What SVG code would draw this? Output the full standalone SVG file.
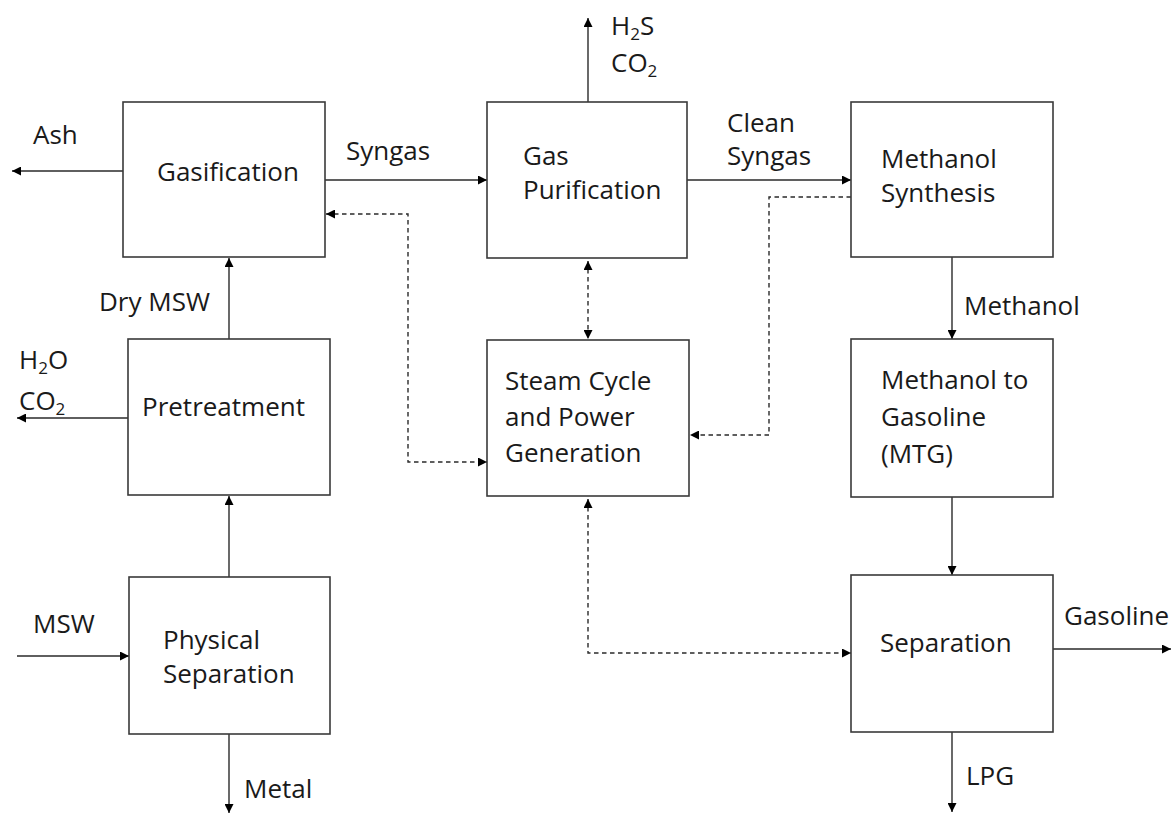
<svg xmlns="http://www.w3.org/2000/svg" width="1172" height="814" viewBox="0 0 1172 814">
<style>
.box{fill:#fff;stroke:#3a3a3a;stroke-width:1.6}
.t{font-family:"Open Sans","Noto Sans","Liberation Sans",sans-serif;font-size:26px;fill:#1a1a1a}
.sub{font-size:17px}
.c{fill:none;stroke:#2a2a2a;stroke-width:1.4}
.d{fill:none;stroke:#2a2a2a;stroke-width:1.4;stroke-dasharray:4.5,3.5}
</style>
<defs>
<marker id="ah" viewBox="0 0 10 10" refX="10" refY="5" markerWidth="10" markerHeight="9" markerUnits="userSpaceOnUse" orient="auto-start-reverse">
<path d="M0,0 L10,5 L0,10 z" fill="#000"/>
</marker>
</defs>
<rect width="1172" height="814" fill="#fff"/>

<g id="connectors">
<line class="c" x1="123" y1="171" x2="12" y2="171" marker-end="url(#ah)"/>
<line class="c" x1="325" y1="180" x2="487" y2="180" marker-end="url(#ah)"/>
<line class="c" x1="687" y1="180" x2="851" y2="180" marker-end="url(#ah)"/>
<line class="c" x1="588" y1="102" x2="588" y2="18" marker-end="url(#ah)"/>
<line class="c" x1="229" y1="339" x2="229" y2="258" marker-end="url(#ah)"/>
<line class="c" x1="229" y1="577" x2="229" y2="496" marker-end="url(#ah)"/>
<line class="c" x1="128" y1="418" x2="17" y2="418" marker-end="url(#ah)"/>
<line class="c" x1="17" y1="656" x2="129" y2="656" marker-end="url(#ah)"/>
<line class="c" x1="229" y1="734" x2="229" y2="813" marker-end="url(#ah)"/>
<line class="c" x1="952" y1="257" x2="952" y2="339" marker-end="url(#ah)"/>
<line class="c" x1="952" y1="497" x2="952" y2="575" marker-end="url(#ah)"/>
<line class="c" x1="1053" y1="649" x2="1171" y2="649" marker-end="url(#ah)"/>
<line class="c" x1="952" y1="732" x2="952" y2="812" marker-end="url(#ah)"/>
<path class="d" d="M588,261 V339" marker-start="url(#ah)" marker-end="url(#ah)"/>
<path class="d" d="M326,214 H408 V462 H487" marker-start="url(#ah)" marker-end="url(#ah)"/>
<path class="d" d="M851,197 H769 V435 H690" marker-end="url(#ah)"/>
<path class="d" d="M588,499 V653 H851" marker-start="url(#ah)" marker-end="url(#ah)"/>
</g>

<g id="gasification">
<rect class="box" x="123" y="102" width="202" height="155"/>
<text class="t" x="157" y="181">Gasification</text>
</g>
<g id="gas-purification">
<rect class="box" x="487" y="102" width="200" height="156"/>
<text class="t" x="523" y="165">Gas</text>
<text class="t" x="523" y="199">Purification</text>
</g>
<g id="methanol-synthesis">
<rect class="box" x="851" y="102" width="202" height="155"/>
<text class="t" x="881" y="168">Methanol</text>
<text class="t" x="881" y="202">Synthesis</text>
</g>
<g id="pretreatment">
<rect class="box" x="128" y="339" width="202" height="156"/>
<text class="t" x="142" y="416">Pretreatment</text>
</g>
<g id="steam-cycle">
<rect class="box" x="487" y="340" width="202" height="156"/>
<text class="t" x="505" y="390">Steam Cycle</text>
<text class="t" x="505" y="426">and Power</text>
<text class="t" x="505" y="462">Generation</text>
</g>
<g id="mtg">
<rect class="box" x="851" y="339" width="202" height="158"/>
<text class="t" x="881" y="389">Methanol to</text>
<text class="t" x="881" y="426">Gasoline</text>
<text class="t" x="881" y="463">(MTG)</text>
</g>
<g id="physical-separation">
<rect class="box" x="129" y="577" width="201" height="157"/>
<text class="t" x="163" y="649">Physical</text>
<text class="t" x="163" y="683">Separation</text>
</g>
<g id="separation">
<rect class="box" x="851" y="575" width="202" height="157"/>
<text class="t" x="880" y="652">Separation</text>
</g>

<g id="labels">
<text class="t" x="33" y="144">Ash</text>
<text class="t" x="346" y="160">Syngas</text>
<text class="t" x="727" y="132">Clean</text>
<text class="t" x="727" y="165">Syngas</text>
<text class="t" x="611" y="35">H<tspan class="sub" dy="5">2</tspan><tspan dy="-5">S</tspan></text>
<text class="t" x="611" y="72">CO<tspan class="sub" dy="5">2</tspan></text>
<text class="t" x="99" y="311">Dry MSW</text>
<text class="t" x="19" y="369">H<tspan class="sub" dy="5">2</tspan><tspan dy="-5">O</tspan></text>
<text class="t" x="19" y="410">CO<tspan class="sub" dy="5">2</tspan></text>
<text class="t" x="33" y="633">MSW</text>
<text class="t" x="244" y="798">Metal</text>
<text class="t" x="964" y="315">Methanol</text>
<text class="t" x="1064" y="625">Gasoline</text>
<text class="t" x="966" y="785">LPG</text>
</g>
</svg>
